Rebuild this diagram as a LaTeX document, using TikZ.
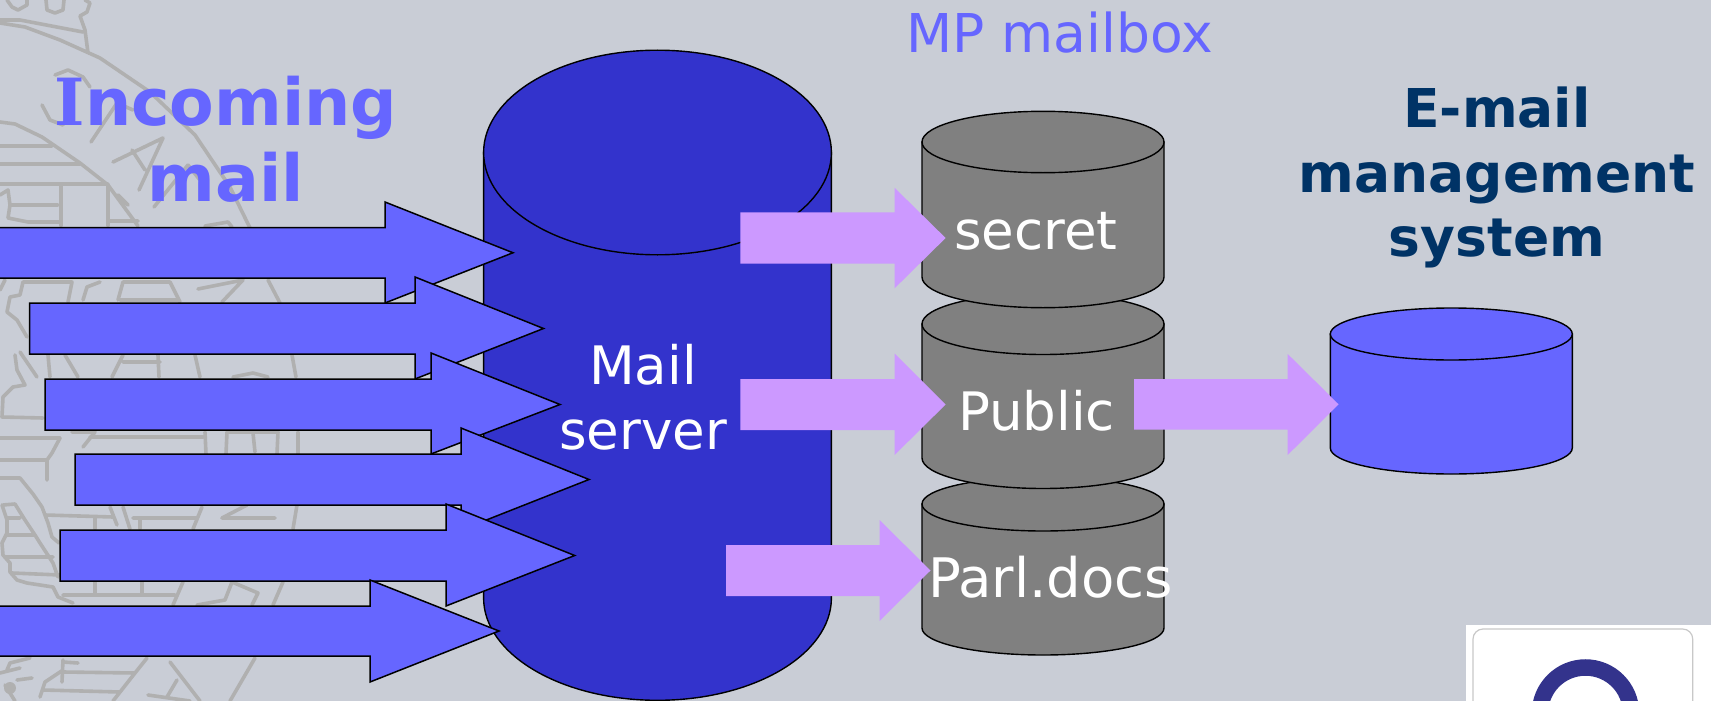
\documentclass[tikz,border=0pt]{standalone}
\usepackage{fontspec}
\setmainfont{DejaVu Sans}
\newfontfamily\slabfont{DejaVu Serif}
\definecolor{bgc}{RGB}{201,205,214}
\definecolor{sealc}{RGB}{176,176,176}
\definecolor{bluea}{RGB}{102,102,255}
\definecolor{blueb}{RGB}{51,51,204}
\definecolor{navy}{RGB}{0,51,102}
\definecolor{lilac}{RGB}{204,153,255}
\definecolor{greyc}{RGB}{128,128,128}
\definecolor{ringc}{RGB}{51,51,140}
\tikzset{
  x=1pt,y=-1pt,
  sealline/.style={draw=sealc,line width=3.6pt,line join=round,line cap=round},
  inarrow/.style={draw=black,fill=bluea,line width=1.5pt,line join=miter},
  outarrow/.style={fill=lilac,draw=none},
  drum/.style={draw=black,line width=1.4pt},
  whitelabel/.style={text=white,font=\fontsize{53}{65}\selectfont,inner sep=0pt,anchor=base},
}
% left, shaft top, shaft bottom, head x, head top, head bottom, tip x
\newcommand{\blockarrow}[8]{\path[#1] (#2,#3) -- (#5,#3) -- (#5,#6) -- (#8,{(#3+#4)/2}) -- (#5,#7) -- (#5,#4) -- (#2,#4) -- cycle;}
% fill, left, right, top centre y, bottom centre y, ry
\newcommand{\drumshape}[6]{%
  \path[drum,fill=#1] (#2,#4) -- (#2,#5) arc[start angle=180,end angle=0,x radius={(#3-#2)/2},y radius=#6] -- (#3,#4) -- cycle;
  \path[drum,fill=#1] ({(#2+#3)/2},#4) ellipse[x radius={(#3-#2)/2},y radius=#6];
}
\begin{document}
\begin{tikzpicture}
\useasboundingbox (0,0) rectangle (1711,701);
\fill[bgc] (0,0) rectangle (1711,701);
\begin{scope}
\clip (0,0) rectangle (1711,701);
% seal line work
\path[sealline]
 (7,0)--(12,7)--(18,10)--(27,5)--(27,0)
 (46,0)--(47,10)--(55,13)--(63,10)--(64,0)
 (85,0)--(90,3)--(87,12)--(80,16)--(85,30)--(88,53)
 (0,20)--(20,20)--(83,32)
 (0,23)--(25,27)--(60,40)--(100,58)--(150,92)--(195,135)--(230,187)--(250,228)
 (42,105)--(50,120)--(63,125) (55,75)--(68,70)--(83,77)--(90,87)
 (91,142)--(117,103) (117,103)--(133,110)
 (113,162)--(163,138)--(139,190) (132,150)--(145,170)
 (154,207)--(188,165) (188,165)--(200,180)
 (205,226)--(228,222)--(232,227)
 (0,122)--(15,124)--(42,137)--(80,163)--(108,185)--(138,226)
 (0,146)--(52,146) (0,164)--(80,164) (0,184)--(108,184)
 (61,184)--(61,226) (108,185)--(108,226) (110,221)--(138,221) (118,195)--(128,205)
 (0,195)--(8,190)--(10,205)--(58,205) (10,205)--(8,218)--(28,222)--(60,222)
 (0,290)--(5,280) (20,295)--(23,282)--(72,282)--(68,302)
 (10,297)--(7,312)--(17,320)--(27,337) (10,297)--(20,295)
 (83,300)--(87,287)--(100,282)
 (118,300)--(123,282)--(170,282)--(180,302) (120,300)--(178,300)
 (198,289)--(243,280)--(222,302)
 (268,280)--(280,303)
 (15,355)--(17,370)--(25,385)--(13,387)--(3,397)--(2,417)--(43,418)
 (20,352)--(37,377) (48,355)--(50,377) (65,355)--(78,377)
 (123,355)--(112,377) (123,362)--(160,362) (158,355)--(159,377)
 (195,355)--(200,377) (292,355)--(296,377)
 (233,377)--(253,373)--(268,377)
 (0,438)--(60,438) (60,438)--(52,453)--(47,460) (72,432)--(95,432)--(83,447)
 (90,437)--(203,437)
 (205,432)--(206,454) (227,432)--(226,454) (227,432)--(278,432)--(277,454)
 (253,433)--(255,452) (298,432)--(298,454)
 (0,460)--(47,460)--(47,480)
 (0,478)--(20,478)--(33,494)--(42,507)--(48,523)--(52,537)--(59,543)
 (45,515)--(113,517) (110,507)--(117,525) (95,517)--(95,529)
 (123,507)--(130,529) (133,518)--(197,518) (140,518)--(140,529)
 (202,507)--(193,529)
 (222,518)--(275,518) (222,518)--(247,505) (297,505)--(293,529)
 (3,505)--(15,504)--(25,520)--(35,535)--(40,543)--(53,563)--(58,577)
 (7,518)--(20,518) (7,535)--(35,535)
 (2,505)--(7,520)--(7,533)--(2,543)--(3,555)--(10,563)--(10,572)--(17,580)--(27,583)--(53,587)--(58,597)--(73,603)
 (5,557)--(53,557) (12,573)--(60,575)
 (95,582)--(95,593) (142,582)--(142,593) (63,595)--(175,595) (183,582)--(173,605)
 (232,582)--(258,593)--(252,605) (232,582)--(225,600)--(197,605)
 (283,582)--(273,605)
 (255,658)--(230,701) (147,658)--(135,673)--(113,701)
 (170,662)--(200,701) (177,680)--(167,697) (148,695)--(190,701)
 (63,660)--(62,682) (63,662)--(78,663) (63,672)--(135,673) (43,690)--(120,692)
 (63,670)--(45,682)--(40,697)
 (0,673)--(20,668) (30,658)--(10,663)--(7,670)
 (17,680)--(32,678) (5,685)--(15,701);
\fill[sealc] (10,688) circle[radius=6];
% logo corner
\fill[white] (1466,624.5) rectangle (1711,701);
\path[draw=sealc!70!white,line width=1.2pt,fill=white,rounded corners=10pt] (1473,629) -- (1692.7,629) -- (1692.7,720) -- (1473,720) -- cycle;
\draw[ringc,line width=16.5pt] (1585.5,713) circle[radius=45.5];
\end{scope}
% drums
\drumshape{blueb}{483.6}{831.4}{152.5}{598}{102.3}
\drumshape{greyc}{922}{1164}{504}{628}{27}
\drumshape{greyc}{922}{1164}{324}{458}{30.5}
\drumshape{greyc}{922}{1164}{142}{277}{30.7}
\drumshape{bluea}{1330.3}{1572.3}{334}{448}{26}
% incoming arrows
\blockarrow{inarrow}{-3}{227.5}{278}{385}{202}{303}{513}
\blockarrow{inarrow}{29.5}{303}{354}{415}{277}{379}{543.5}
\blockarrow{inarrow}{45}{379}{430}{431}{353}{454}{560}
\blockarrow{inarrow}{75}{454}{505}{461}{428}{530}{589}
\blockarrow{inarrow}{60}{530}{581}{446}{504}{606}{574.7}
\blockarrow{inarrow}{-3}{606}{656}{370}{580}{682}{499}
% outgoing arrows
\blockarrow{outarrow}{740.3}{212.3}{263.7}{894.6}{187.8}{288.3}{945.6}
\blockarrow{outarrow}{740.3}{379}{430}{894.6}{353.6}{455}{945.6}
\blockarrow{outarrow}{726}{545}{596}{879.5}{520}{621}{930.5}
\blockarrow{outarrow}{1134}{379}{429.7}{1287.7}{354}{455}{1338.6}
% labels
\node[text=bluea,font=\fontsize{65}{76}\selectfont\bfseries,inner sep=0pt,anchor=base,align=center] (incoming) at (226,201) {{\slabfont I}ncoming\\mail};
\node[text=bluea,font=\fontsize{53.5}{60}\selectfont,inner sep=0pt,anchor=base] (mailbox) at (1059.5,52.7) {MP mailbox};
\node[whitelabel,align=center] (server) at (643,449) {Mail\\server};
\node[whitelabel] (secret) at (1036,249) {secret};
\node[whitelabel] (public) at (1036.5,430.5) {Public};
\node[whitelabel,font=\fontsize{54.5}{65}\selectfont] (parl) at (1050.5,597) {Parl.docs};
\node[text=navy,font=\fontsize{53.5}{64.5}\selectfont\bfseries,inner sep=0pt,anchor=base,align=center] (ems) at (1497,256.7) {E-mail\\management\\system};
\end{tikzpicture}
\end{document}
